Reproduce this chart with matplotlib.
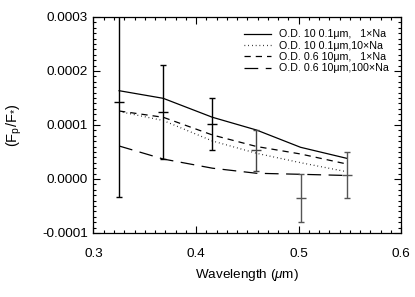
import matplotlib
matplotlib.use("Agg")
import matplotlib.pyplot as plt
from matplotlib.ticker import MultipleLocator, FuncFormatter

plt.rcParams['font.family'] = ['Liberation Sans', 'DejaVu Sans']
plt.rcParams['mathtext.fontset'] = 'custom'
plt.rcParams['mathtext.rm'] = 'Liberation Sans'
plt.rcParams['mathtext.it'] = 'Liberation Sans:italic'

# Data
wavelength = [0.325, 0.368, 0.416, 0.459, 0.502, 0.547]
obs = [0.000143, 0.0001245, 0.000102, 0.000053, -0.0000346, 0.0000074]
obs_err = [0.000177, 0.0000875, 0.0000485, 0.0000373, 0.0000445, 0.0000432]

model_od10_1na = [0.0001635, 0.0001494, 0.0001143, 0.0000907, 0.0000587, 0.0000383]
model_od10_10na = [0.000125, 0.0001083, 0.0000704, 0.0000476, 0.0000302, 0.0000135]
model_od06_1na = [0.0001259, 0.0001143, 0.0000815, 0.0000602, 0.0000463, 0.0000278]
model_od06_100na = [0.0000611, 0.000037, 0.0000200, 0.0000106, 0.0000087, 0.0000065]

labels = ["O.D. 10 0.1\u03bcm,   1\u00d7Na",
          "O.D. 10 0.1\u03bcm,10\u00d7Na",
          "O.D. 0.6 10\u03bcm,   1\u00d7Na",
          "O.D. 0.6 10\u03bcm,100\u00d7Na"]

fig = plt.figure(figsize=(4.15, 2.97), dpi=100)
ax = fig.add_axes([0.2253, 0.2155, 0.9663 - 0.2253, 0.9428 - 0.2155])

lw = 0.9
ax.plot(wavelength, model_od10_1na, color='black', lw=lw, ls='-', label=labels[0])
ax.plot(wavelength, model_od10_10na, color='black', lw=lw, ls=(0, (0.6, 2.4)), label=labels[1])
ax.plot(wavelength, model_od06_1na, color='black', lw=lw, ls=(0, (5, 4)), label=labels[2])
ax.plot(wavelength, model_od06_100na, color='black', lw=lw, ls=(0, (11, 6)), label=labels[3])

colors = ['black', 'black', 'black', '#444444', '#555555', '#555555']
for i in range(len(wavelength)):
    ax.errorbar(wavelength[i], obs[i], yerr=obs_err[i], fmt='_', color=colors[i],
                ecolor=colors[i], elinewidth=1.0, capsize=2.2, capthick=1.0,
                markersize=7, markeredgewidth=1.0)

ax.set_xlim(0.3, 0.6)
ax.set_ylim(-0.0001, 0.0003)
ax.xaxis.set_major_locator(MultipleLocator(0.1))
ax.xaxis.set_minor_locator(MultipleLocator(0.01))
ax.yaxis.set_major_locator(MultipleLocator(0.0001))
ax.yaxis.set_minor_locator(MultipleLocator(0.00001))
ax.xaxis.set_major_formatter(FuncFormatter(lambda v, p: f"{v:.1f}"))
ax.yaxis.set_major_formatter(FuncFormatter(lambda v, p: f"{v:.4f}" if abs(v) > 1e-9 else "0.0000"))
ax.tick_params(which='both', direction='in', top=True, right=True, labelsize=9.7, width=0.8)
ax.tick_params(which='major', length=5)
ax.tick_params(which='minor', length=2.5)
ax.tick_params(axis='x', pad=11)
ax.tick_params(axis='y', pad=4)
for s in ax.spines.values():
    s.set_linewidth(0.9)

ax.set_xlabel(r"Wavelength ($\mathit{\mu}$m)", fontsize=9.7, labelpad=5)
ax.set_ylabel(r"(F$_{\mathrm{p}}$/F$_{*}$)", fontsize=10.5, labelpad=13)

leg = ax.legend(loc='upper right', frameon=False, fontsize=7.7, handlelength=2.6,
                handletextpad=0.7, labelspacing=0.13, borderaxespad=0.5,
                borderpad=0.65)

fig.savefig("out.png", dpi=100)
